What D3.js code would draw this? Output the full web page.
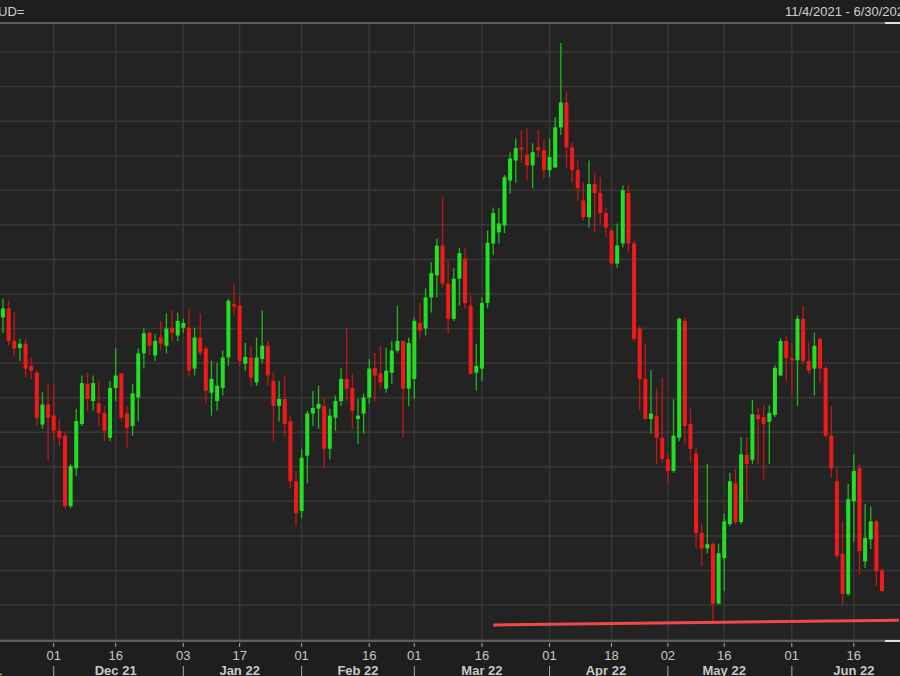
<!DOCTYPE html>
<html><head><meta charset="utf-8">
<script src="https://cdn.jsdelivr.net/npm/d3@7"></script>
<style>body{margin:0;background:#1e1e1e;overflow:hidden}</style>
</head><body><svg id="c" width="900" height="676"></svg>
<script>
// Daily candles [open, high, low, close] in pips (price*10000), mid-Nov 2021 .. Jun 2022
const opens =[7266,7279,7232,7222,7228,7196,7186,7111,7140,7124,7102,7095,6993,7048,7112,7170,7145,7142,7128,7092,7164,7185,7127,7109,7150,7214,7244,7211,7237,7225,7251,7240,7251,7251,7192,7237,7221,7157,7145,7164,7208,7285,7283,7199,7208,7172,7206,7225,7174,7138,7148,7116,7029,6986,7066,7127,7134,7138,7076,7121,7145,7177,7164,7119,7127,7150,7193,7185,7163,7186,7218,7232,7163,7177,7258,7250,7295,7327,7370,7315,7264,7322,7351,7283,7186,7192,7287,7373,7389,7399,7464,7493,7512,7501,7486,7512,7508,7479,7483,7541,7577,7512,7479,7435,7411,7459,7446,7417,7392,7344,7373,7446,7373,7250,7177,7119,7124,7092,7061,7044,7092,7261,7112,7069,6954,6932,6938,6852,6918,6967,7026,6970,7067,7060,7125,7122,7115,7125,7182,7232,7207,7204,7264,7203,7192,7235,7193,7095,7029,6924,6866,7000,7048,6913,6945,6971,6900];
const highs =[7293,7290,7273,7235,7235,7208,7189,7158,7170,7170,7119,7100,7054,7134,7182,7186,7182,7174,7138,7174,7221,7185,7138,7170,7221,7250,7245,7242,7261,7272,7276,7273,7264,7279,7251,7272,7225,7203,7200,7218,7293,7315,7295,7229,7225,7237,7276,7232,7186,7174,7182,7124,7044,7076,7131,7160,7167,7150,7134,7153,7193,7250,7185,7148,7156,7206,7215,7225,7222,7232,7283,7232,7237,7266,7287,7308,7346,7380,7440,7348,7337,7367,7367,7298,7228,7295,7392,7425,7424,7472,7505,7525,7537,7540,7518,7537,7522,7525,7556,7663,7592,7519,7493,7461,7493,7476,7469,7425,7396,7402,7457,7457,7377,7254,7228,7190,7163,7179,7068,7148,7266,7266,7134,7077,6967,7054,6942,6939,6982,7041,7047,7093,7093,7147,7136,7139,7139,7197,7236,7239,7229,7269,7283,7229,7244,7237,7196,7138,7048,6971,7025,7068,7054,6996,6993,6974,6903];
const lows  =[7244,7225,7211,7203,7179,7177,7109,7105,7058,7087,7080,6990,6990,7037,7109,7131,7131,7109,7087,7087,7145,7116,7077,7095,7116,7192,7211,7203,7218,7214,7232,7232,7244,7180,7182,7211,7142,7124,7131,7153,7196,7269,7195,7189,7167,7167,7200,7167,7087,7116,7095,7019,6964,6976,7026,7109,7105,7048,7061,7102,7138,7145,7105,7083,7098,7141,7145,7163,7157,7170,7215,7092,7138,7148,7235,7240,7273,7295,7309,7243,7261,7283,7279,7184,7160,7174,7279,7356,7373,7388,7445,7461,7490,7464,7453,7498,7467,7469,7482,7530,7483,7461,7435,7406,7396,7389,7402,7382,7341,7338,7367,7360,7232,7131,7119,7098,7054,7056,7026,7041,7087,7084,7056,6932,6906,6925,6826,6851,6870,6964,6967,6967,7000,7054,7054,7032,7054,7122,7181,7174,7153,7138,7199,7184,7153,7171,7092,7034,6918,6851,6863,6942,6894,6903,6931,6877,6870];
const closes=[7279,7232,7221,7228,7192,7189,7121,7140,7121,7102,7092,6993,7051,7116,7171,7148,7171,7128,7102,7164,7182,7121,7106,7156,7214,7243,7225,7232,7228,7250,7244,7261,7258,7189,7237,7215,7160,7177,7167,7208,7290,7282,7203,7209,7179,7208,7225,7182,7138,7148,7112,7029,6983,7063,7127,7135,7141,7076,7124,7145,7177,7163,7131,7124,7150,7192,7182,7172,7189,7218,7232,7163,7229,7261,7247,7295,7330,7370,7315,7264,7322,7359,7287,7184,7196,7287,7374,7417,7402,7469,7496,7511,7509,7486,7505,7508,7479,7498,7541,7577,7512,7479,7453,7411,7459,7446,7417,7396,7344,7370,7450,7373,7235,7177,7119,7127,7092,7061,7044,7095,7264,7109,7076,6954,6932,6938,6852,6925,6971,7029,6970,7068,7054,7126,7119,7112,7128,7193,7232,7207,7204,7264,7203,7189,7225,7192,7095,7048,6921,6866,7003,7044,6928,6947,6971,6899,6870];
// Axis labels: [candle index, label]
const dayTicks = [[9,"01"],[20,"16"],[32,"03"],[42,"17"],[53,"01"],[65,"16"],[73,"01"],[85,"16"],[97,"01"],[108,"18"],[118,"02"],[128,"16"],[140,"01"],[151,"16"]];
const monthStarts = [9,32,53,73,97,118,140];
const monthLabels = [[-4,"Nov 21"],[20,"Dec 21"],[42,"Jan 22"],[63,"Feb 22"],[85,"Mar 22"],[107,"Apr 22"],[128,"May 22"],[151,"Jun 22"]];
const priceGrid = [0.680,0.685,0.690,0.695,0.700,0.705,0.710,0.715,0.720,0.725,0.730,0.735,0.740,0.745,0.750,0.755,0.760,0.765];
const supportLine = [[87,0.6821],[159,0.6828]];
const title = "UD=";
const range = "11/4/2021 - 6/30/2022";

const svg = d3.select("#c");
const x = d3.scaleLinear().domain([0,156]).range([3,882]);
const y = d3.scaleLinear().domain([0.685,0.765]).range([605,52]);
const F = "'Liberation Sans Narrow','Arial Narrow','Liberation Sans',sans-serif";

svg.append("rect").attr("width",900).attr("height",676).attr("fill","#1e1e1e");
svg.append("rect").attr("y",24).attr("width",900).attr("height",617).attr("fill","#232323");
const clip = svg.append("clipPath").attr("id","pc").append("rect").attr("y",24).attr("width",900).attr("height",617);
const g = svg.append("g").attr("clip-path","url(#pc)");
g.selectAll(".hg").data(priceGrid).join("line").attr("x1",0).attr("x2",900)
  .attr("y1",d=>y(d)).attr("y2",d=>y(d)).attr("stroke","#383838").attr("stroke-width",1.5);
g.selectAll(".vg").data(dayTicks).join("line").attr("x1",d=>x(d[0])).attr("x2",d=>x(d[0]))
  .attr("y1",24).attr("y2",641).attr("stroke","#383838").attr("stroke-width",1.5);

const data = opens.map((o,i)=>({i,o:o/1e4,h:highs[i]/1e4,l:lows[i]/1e4,c:closes[i]/1e4}));
const col = d=>d.c>=d.o?"#22e022":"#f01a1a";
const wcol = d=>d.c>=d.o?"#1fb81f":"#c41616";
g.selectAll(".w").data(data).join("line").attr("x1",d=>x(d.i)).attr("x2",d=>x(d.i))
  .attr("y1",d=>y(d.h)).attr("y2",d=>y(d.l)).attr("stroke",wcol).attr("stroke-width",1.3);
g.selectAll(".b").data(data).join("rect").attr("x",d=>x(d.i)-2).attr("width",4)
  .attr("y",d=>y(Math.max(d.o,d.c))).attr("height",d=>Math.max(1.5,Math.abs(y(d.o)-y(d.c))))
  .attr("fill",col);
g.append("path").datum(supportLine).attr("d",d3.line().x(d=>x(d[0])).y(d=>y(d[1])))
  .attr("stroke","#f04848").attr("stroke-width",3).attr("fill","none");

svg.append("line").attr("x1",0).attr("x2",900).attr("y1",23).attr("y2",23).attr("stroke","#5f5f5f").attr("stroke-width",2);
svg.append("line").attr("x1",885).attr("x2",900).attr("y1",23).attr("y2",23).attr("stroke","#dddddd").attr("stroke-width",2);
svg.append("line").attr("x1",0).attr("x2",900).attr("y1",641).attr("y2",641).attr("stroke","#5f5f5f").attr("stroke-width",2);
svg.append("line").attr("x1",885).attr("x2",900).attr("y1",641).attr("y2",641).attr("stroke","#dddddd").attr("stroke-width",2);

svg.append("text").attr("x",-2).attr("y",16).text(title).attr("fill","#d0d0d0").attr("font-family",F).attr("font-size",13);
svg.append("text").attr("x",785).attr("y",16).text(range).attr("fill","#d0d0d0").attr("font-family",F).attr("font-size",13);

const ax = svg.append("g");
ax.selectAll(".tk").data(dayTicks).join("line").attr("x1",d=>x(d[0])).attr("x2",d=>x(d[0]))
  .attr("y1",643).attr("y2",647).attr("stroke","#aaa");
ax.selectAll(".tl").data(dayTicks).join("text").attr("x",d=>x(d[0])).attr("y",660).attr("text-anchor","middle")
  .text(d=>d[1]).attr("fill","#c8c8c8").attr("font-family",F).attr("font-size",13);
ax.selectAll(".ms").data(monthStarts).join("line").attr("x1",d=>x(d)).attr("x2",d=>x(d))
  .attr("y1",666).attr("y2",676).attr("stroke","#aaa");
ax.selectAll(".ml").data(monthLabels).join("text").attr("x",d=>x(d[0])).attr("y",675).attr("text-anchor","middle")
  .text(d=>d[1]).attr("fill","#c8c8c8").attr("font-family",F).attr("font-size",13).attr("font-weight","bold");
</script></body></html>
